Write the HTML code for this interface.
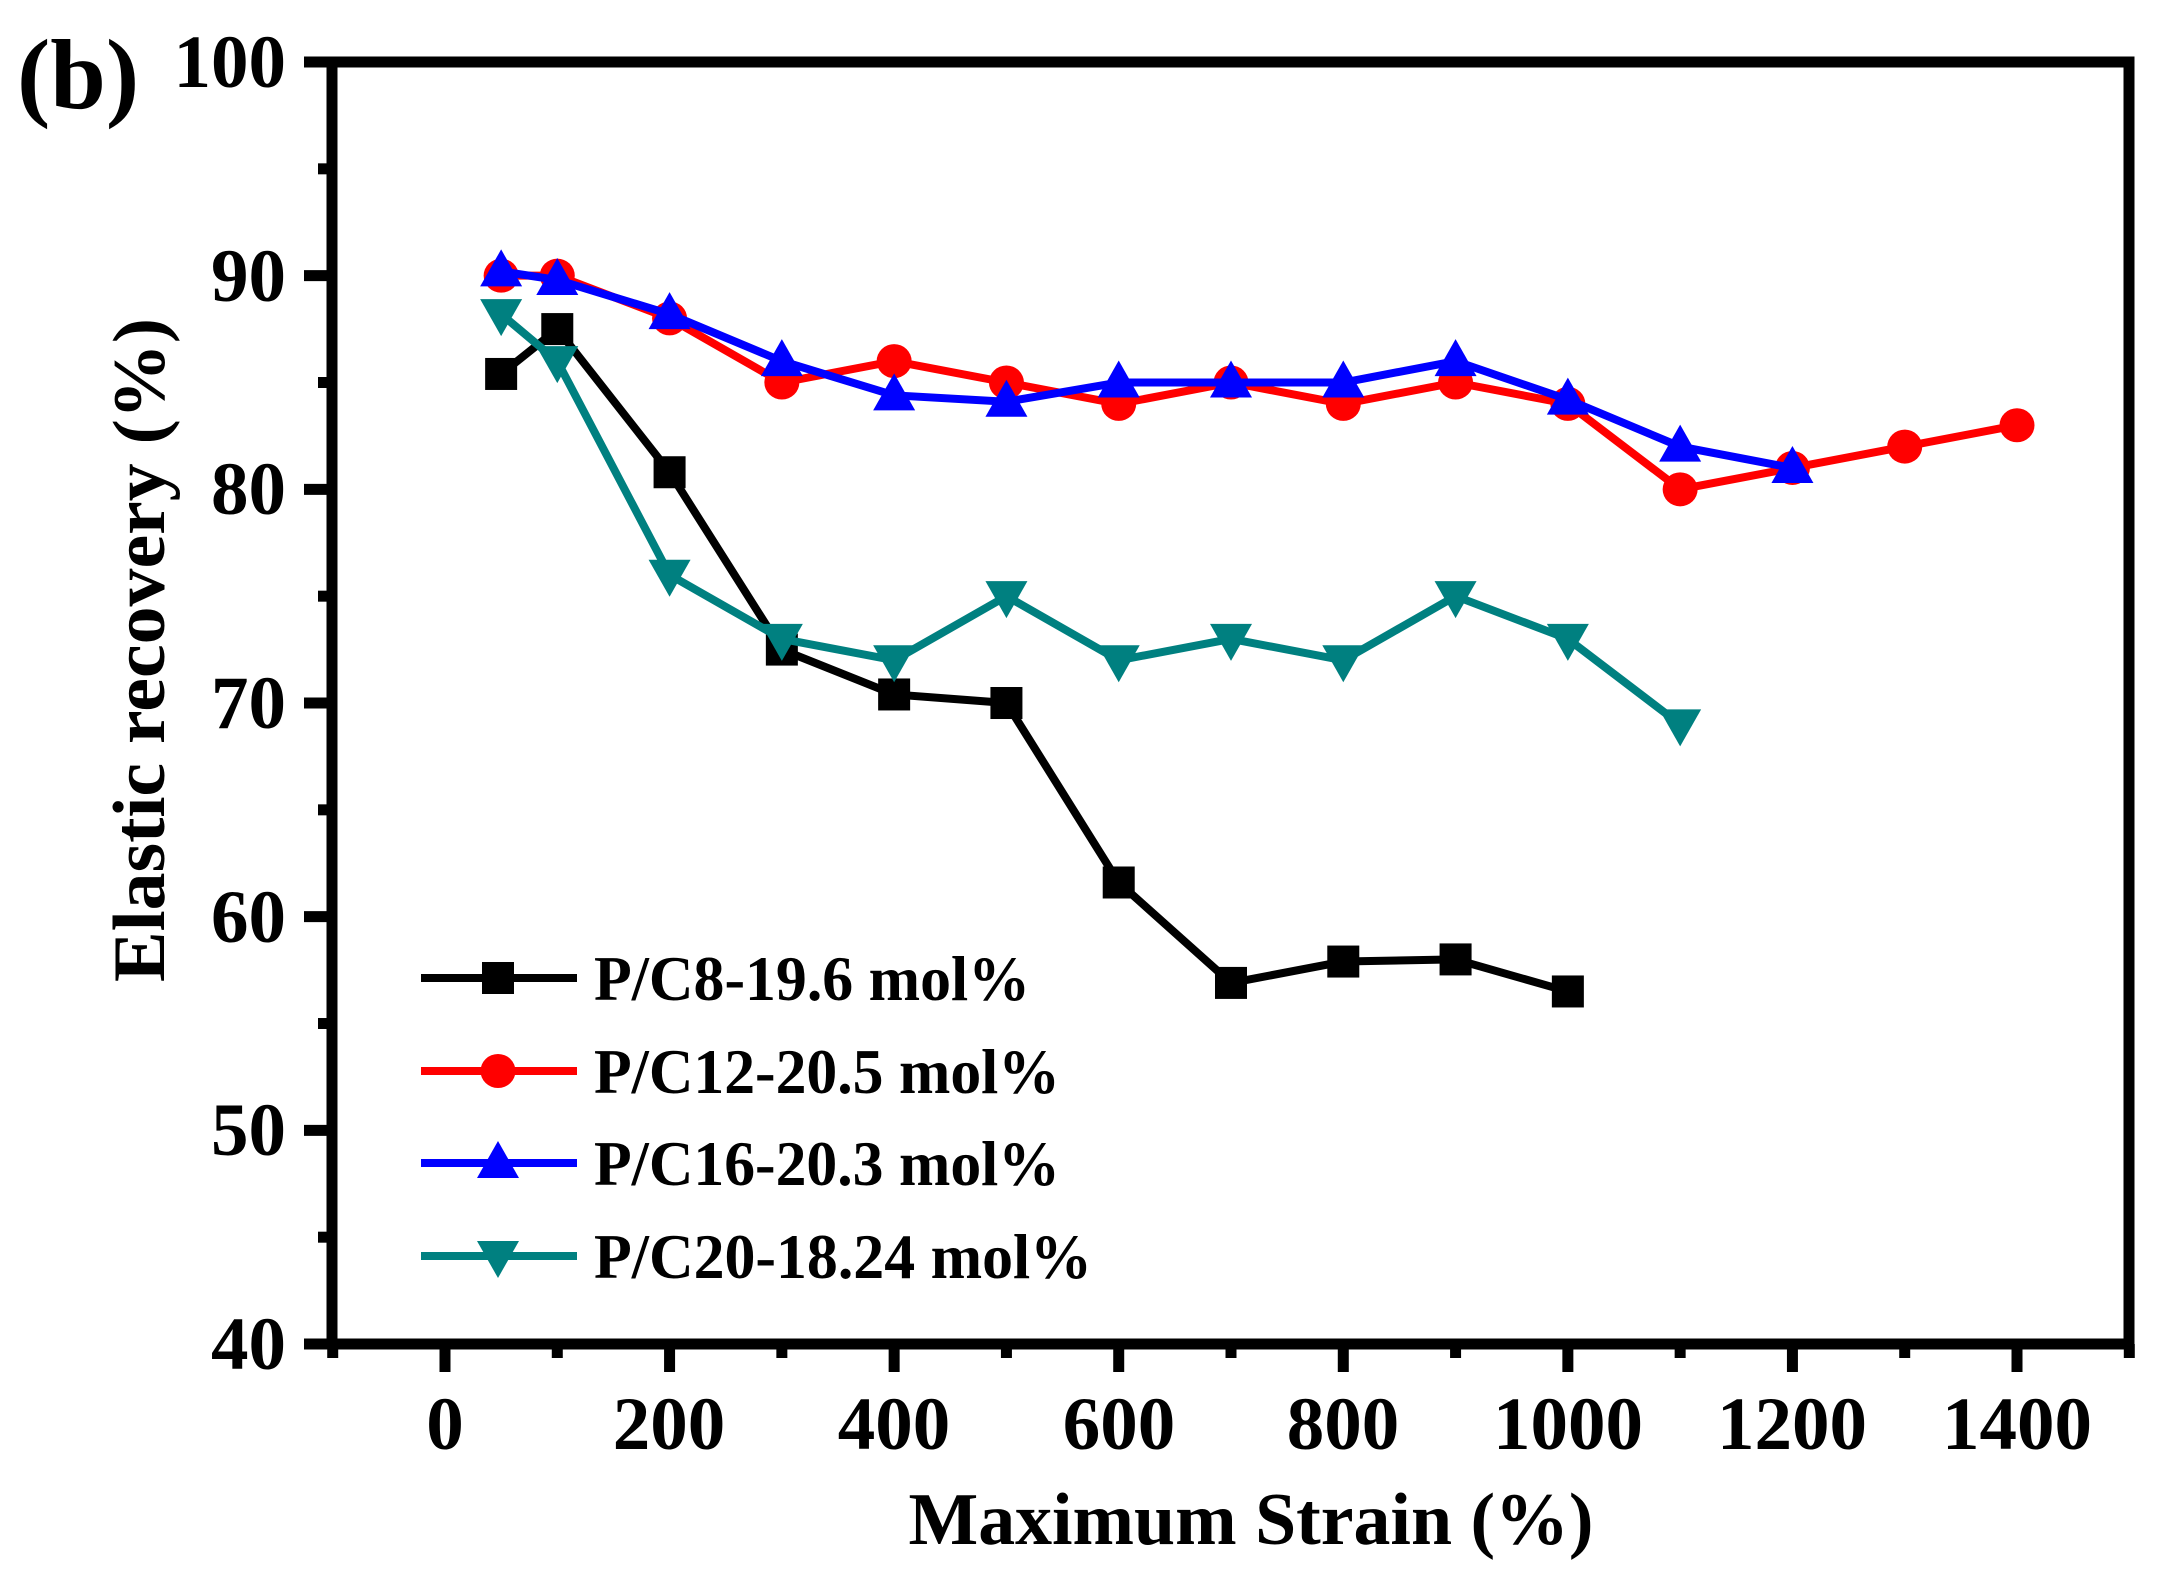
<!DOCTYPE html>
<html><head><meta charset="utf-8"><style>html,body{margin:0;padding:0;background:#fff}svg{display:block}</style></head>
<body>
<svg id="s" width="2161" height="1578" viewBox="0 0 2161 1578" xmlns="http://www.w3.org/2000/svg" font-family="'Liberation Serif',serif" font-weight="bold">
<rect width="2161" height="1578" fill="#fff"/>
<g id="series"></g>
<g stroke="#000" stroke-width="11" fill="none">
<rect x="332" y="62" width="1797" height="1282"/>
</g>
<g id="ticks" stroke="#000" stroke-width="11"></g>
<g font-size="75" text-anchor="middle" fill="#000">
<text x="445" y="1449">0</text><text x="669" y="1449">200</text><text x="894" y="1449">400</text>
<text x="1119" y="1449">600</text><text x="1343" y="1449">800</text><text x="1568" y="1449">1000</text>
<text x="1792" y="1449">1200</text><text x="2017" y="1449">1400</text>
</g>
<g font-size="75" text-anchor="end" fill="#000">
<text x="286" y="87">100</text><text x="286" y="301">90</text><text x="286" y="514">80</text>
<text x="286" y="728">70</text><text x="286" y="942">60</text><text x="286" y="1155">50</text><text x="286" y="1369">40</text>
</g>
<text x="1251" y="1544" font-size="74" text-anchor="middle" textLength="685" lengthAdjust="spacingAndGlyphs">Maximum Strain (%)</text>
<text transform="translate(164,650) rotate(-90)" font-size="74" text-anchor="middle" textLength="664" lengthAdjust="spacingAndGlyphs">Elastic recovery (%)</text>
<text x="17" y="108" font-size="100">(b)</text>
<g id="legend"></g>
<g font-size="63" fill="#000">
<text x="594" y="1000" textLength="436" lengthAdjust="spacingAndGlyphs">P/C8-19.6 mol%</text>
<text x="594" y="1093" textLength="466" lengthAdjust="spacingAndGlyphs">P/C12-20.5 mol%</text>
<text x="594" y="1185" textLength="466" lengthAdjust="spacingAndGlyphs">P/C16-20.3 mol%</text>
<text x="594" y="1278" textLength="498" lengthAdjust="spacingAndGlyphs">P/C20-18.24 mol%</text>
</g>
</svg>
<script>
const NS="http://www.w3.org/2000/svg";
const X=v=>445+v*1.12286, Y=v=>62+(100-v)*21.367;
function el(p,t,a){const e=document.createElementNS(NS,t);for(const k in a)e.setAttribute(k,a[k]);p.appendChild(e);return e;}
const tk=document.getElementById('ticks');
for(let v=-100;v<=1500;v+=100){const maj=v%200===0;el(tk,'line',{x1:X(v),x2:X(v),y1:1344,y2:maj?1372:1358});}
for(let v=40;v<=100;v+=5){const maj=v%10===0;el(tk,'line',{y1:Y(v),y2:Y(v),x1:332,x2:maj?304:318});}
function mk(g,type,x,y,c){
 if(type==='s')el(g,'rect',{x:x-16,y:y-16,width:32,height:32,fill:c});
 else if(type==='c')el(g,'ellipse',{cx:x,cy:y,rx:17.5,ry:17,fill:c});
 else if(type==='u')el(g,'polygon',{points:`${x},${y-22} ${x-21},${y+15} ${x+21},${y+15}`,fill:c});
 else el(g,'polygon',{points:`${x},${y+22} ${x-21},${y-15} ${x+21},${y-15}`,fill:c});
}
const S=[
 ['#000','s',[[50,85.4],[100,87.5],[200,80.8],[300,72.5],[400,70.4],[500,70],[600,61.6],[700,56.9],[800,57.9],[900,58],[1000,56.5]]],
 ['#f00','c',[[50,90],[100,90],[200,88],[300,85],[400,86],[500,85],[600,84],[700,85],[800,84],[900,85],[1000,84],[1100,80],[1200,81],[1300,82],[1400,83]]],
 ['#00f','u',[[50,90.2],[100,89.8],[200,88.2],[300,86],[400,84.4],[500,84.1],[600,85],[700,85],[800,85],[900,86],[1000,84.2],[1100,82],[1200,81]]],
 ['#008080','d',[[50,88.2],[100,86],[200,76],[300,73],[400,72],[500,75],[600,72],[700,73],[800,72],[900,75],[1000,73],[1100,69]]]
];
const g=document.getElementById('series'), lg=document.getElementById('legend');
const ly=[978,1071,1163,1256];
S.forEach((s,i)=>{
 el(g,'polyline',{points:s[2].map(p=>X(p[0])+','+Y(p[1])).join(' '),fill:'none',stroke:s[0],'stroke-width':8,'stroke-linejoin':'miter'});
 s[2].forEach(p=>mk(g,s[1],X(p[0]),Y(p[1]),s[0]));
 el(lg,'line',{x1:421,x2:577,y1:ly[i],y2:ly[i],stroke:s[0],'stroke-width':8});
 mk(lg,s[1],498,ly[i],s[0]);
});
</script>
</body></html>
